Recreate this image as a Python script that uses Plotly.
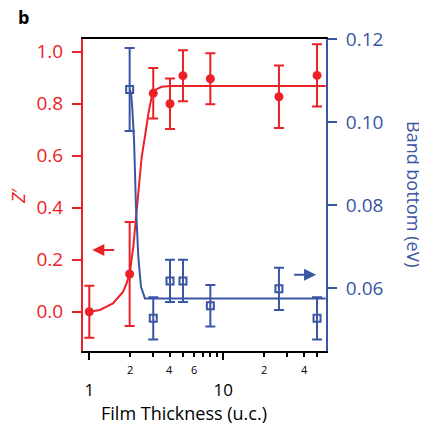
import math
import plotly.graph_objects as go

RED = '#EC2127'
BLUE = '#3A55A4'
FONT = 'Open Sans'

# Z' data (left axis)
thick_z = [1, 2, 3, 4, 5, 8, 26, 50]
z_vals = [0.0, 0.145, 0.84, 0.80, 0.908, 0.896, 0.827, 0.909]
z_err = [0.10, 0.20, 0.097, 0.097, 0.098, 0.098, 0.12, 0.12]

# Z' fit curve
zfit_x = [1.0, 1.2, 1.5, 1.79, 1.9, 2.0, 2.13, 2.22, 2.32, 2.46, 2.6, 2.76, 2.92, 3.09, 3.47, 4.0, 6.0, 58]
zfit_y = [0.0, 0.007, 0.032, 0.077, 0.11, 0.145, 0.25, 0.353, 0.468, 0.596, 0.673, 0.763, 0.827, 0.853, 0.865, 0.868, 0.868, 0.868]

# Band bottom data (right axis)
thick_b = [2, 3, 4, 5, 8, 26, 50]
band_vals = [0.1079, 0.0527, 0.0617, 0.0617, 0.0557, 0.0598, 0.0527]
band_err = [0.010, 0.0051, 0.0051, 0.0051, 0.005, 0.0051, 0.0051]

# Band bottom fit curve
bfit_x = [2.0, 2.05, 2.09, 2.157, 2.23, 2.32, 2.43, 2.6, 3.0, 58]
bfit_y = [0.1079, 0.107, 0.1037, 0.0957, 0.0796, 0.0676, 0.0603, 0.0575, 0.0575, 0.0575]

# tick labels
major_x = [1, 10]
major_lbl = ['1', '10']
minor_x = [2, 3, 4, 5, 6, 7, 8, 9, 20, 30, 40, 50]
minor_lbl_x = [2, 4, 6, 20, 40]
minor_lbl = ['2', '4', '6', '2', '4']
left_ticks = [0.0, 0.2, 0.4, 0.6, 0.8, 1.0]
right_ticks = [0.06, 0.08, 0.10, 0.12]

fig = go.Figure()

fig.add_trace(go.Scatter(x=zfit_x, y=zfit_y, mode='lines', line=dict(color=RED, width=2),
                         yaxis='y', hoverinfo='skip', showlegend=False))
fig.add_trace(go.Scatter(x=bfit_x, y=bfit_y, mode='lines', line=dict(color=BLUE, width=2),
                         yaxis='y2', hoverinfo='skip', showlegend=False))
fig.add_trace(go.Scatter(x=thick_z, y=z_vals, mode='markers',
                         marker=dict(color=RED, size=9, symbol='circle'),
                         error_y=dict(type='data', array=z_err, color=RED, thickness=2, width=5),
                         yaxis='y', showlegend=False))
fig.add_trace(go.Scatter(x=thick_b, y=band_vals, mode='markers',
                         marker=dict(color=BLUE, size=7, symbol='square-open', line=dict(width=2, color=BLUE)),
                         error_y=dict(type='data', array=band_err, color=BLUE, thickness=2, width=5),
                         yaxis='y2', showlegend=False))

# page offset (body margin) compensation
OFF = 8
W, H = 427 - OFF, 424 - OFF
L, T = 83 - OFF, 39 - OFF
pw, ph = 243, 312
R = W - L - pw
B = H - T - ph

fig.update_layout(
    width=W, height=H,
    margin=dict(l=L, r=R, t=T, b=B, autoexpand=False),
    paper_bgcolor='white', plot_bgcolor='white',
    font=dict(family=FONT, color='black'),
    xaxis=dict(type='log', range=[-0.047, 1.766], showgrid=False, zeroline=False,
               showline=True, linecolor='black', linewidth=2, mirror=True,
               ticks='outside', tickcolor='black', tickwidth=1.5, ticklen=7,
               tickmode='array', tickvals=major_x, ticktext=major_lbl,
               tickfont=dict(size=17, family=FONT, color='black'), ticklabelstandoff=16,
               minor=dict(tickmode='array', tickvals=minor_x, ticks='outside', ticklen=4,
                          tickcolor='black', tickwidth=1.5, showgrid=False)),
    yaxis=dict(range=[-0.151, 1.049], showgrid=False, zeroline=False,
               showline=True, linecolor=RED, linewidth=2,
               ticks='outside', tickcolor=RED, tickwidth=2, ticklen=9,
               tickmode='array', tickvals=left_ticks, tickformat='.1f',
               tickfont=dict(size=19, family=FONT, color=RED), ticklabelstandoff=5),
    yaxis2=dict(range=[0.0448, 0.1201], overlaying='y', side='right', anchor='x',
                showgrid=False, zeroline=False,
                showline=True, linecolor=BLUE, linewidth=2,
                ticks='outside', tickcolor=BLUE, tickwidth=2, ticklen=9,
                tickmode='array', tickvals=right_ticks, tickformat='.2f',
                tickfont=dict(size=19, family=FONT, color=BLUE), ticklabelstandoff=5),
)

# helpers: reference-picture pixels -> paper coords
def px_x(p):
    return (p - 83) / pw

def px_y(p):
    return (351 - p) / ph

ann = []
for v, t in zip(minor_lbl_x, minor_lbl):
    ann.append(dict(x=math.log10(v), xref='x', y=px_y(369), yref='paper', text=t,
                    showarrow=False, font=dict(size=11, family=FONT, color='black'),
                    xanchor='center', yanchor='middle'))
ann.append(dict(x=px_x(184), xref='paper', y=px_y(413), yref='paper', text='Film Thickness (u.c.)',
                showarrow=False, font=dict(size=18, family=FONT, color='black'),
                xanchor='center', yanchor='middle'))
ann.append(dict(x=px_x(18), xref='paper', y=px_y(196), yref='paper', text="<i>Z</i>′",
                showarrow=False, textangle=-90, font=dict(size=19, family=FONT, color=RED),
                xanchor='center', yanchor='middle'))
ann.append(dict(x=px_x(414), xref='paper', y=px_y(194), yref='paper', text='Band bottom (eV)',
                showarrow=False, textangle=90, font=dict(size=18, family=FONT, color=BLUE),
                xanchor='center', yanchor='middle'))
ann.append(dict(x=px_x(23), xref='paper', y=px_y(17), yref='paper', text='<b>b</b>',
                showarrow=False, font=dict(size=18, family=FONT, color='black'),
                xanchor='center', yanchor='middle'))
# arrows indicating axes
ann.append(dict(x=math.log10(1.053), y=0.237, xref='x', yref='y',
                ax=math.log10(1.574), ay=0.237, axref='x', ayref='y', text='',
                showarrow=True, arrowhead=2, arrowsize=1.2, arrowwidth=2, arrowcolor=RED))
ann.append(dict(x=math.log10(49.2), y=0.0632, xref='x', yref='y2',
                ax=math.log10(32.9), ay=0.0632, axref='x', ayref='y2', text='',
                showarrow=True, arrowhead=2, arrowsize=1.2, arrowwidth=2, arrowcolor=BLUE))
fig.update_layout(annotations=ann)

fig.write_html('out.html')
